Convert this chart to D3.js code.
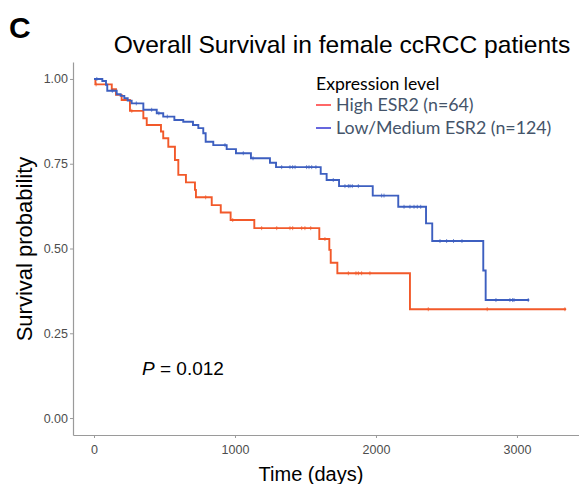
<!DOCTYPE html>
<html>
<head>
<meta charset="utf-8">
<script src="https://cdn.jsdelivr.net/npm/d3@7"></script>
<style>
  body { margin: 0; background: #fff; }
  text { font-family: Arial, "Liberation Sans", sans-serif; }
</style>
</head>
<body>
<svg id="chart" width="579" height="484"></svg>
<script>
// Kaplan-Meier steps (time in days, survival after the drop)
const highTimes = [0, 10, 126, 156, 196, 255, 350, 374, 475, 491, 527, 574, 598, 652, 716, 723, 835, 899, 969, 1137, 1598, 1669, 1679, 1726, 2241, 3348];
const highSurv  = [1, 0.984, 0.970, 0.953, 0.938, 0.906, 0.884, 0.864, 0.845, 0.825, 0.800, 0.761, 0.717, 0.695, 0.673, 0.651, 0.628, 0.606, 0.584, 0.560, 0.528, 0.496, 0.458, 0.427, 0.321, 0.321];
const highCensor = [15, 268, 792, 984, 1189, 1296, 1390, 1409, 1473, 1496, 1537, 1638, 1804, 1858, 1875, 1898, 1957, 2371, 2789, 3340];

const lowTimes = [0, 59, 85, 94, 161, 189, 215, 239, 267, 350, 445, 491, 570, 633, 702, 740, 775, 792, 846, 941, 1007, 1113, 1248, 1291, 1608, 1650, 1738, 1977, 2158, 2355, 2399, 2761, 2778, 3085];
const lowSurv  = [1, 0.994, 0.983, 0.965, 0.955, 0.950, 0.943, 0.936, 0.928, 0.909, 0.899, 0.889, 0.879, 0.874, 0.864, 0.855, 0.840, 0.815, 0.805, 0.793, 0.781, 0.766, 0.753, 0.740, 0.720, 0.702, 0.684, 0.656, 0.623, 0.574, 0.522, 0.435, 0.348, 0.348];
const lowCensor = [20, 130, 300, 409, 460, 520, 929, 1059, 1128, 1331, 1390, 1409, 1426, 1508, 1525, 1544, 1574, 1697, 1780, 1804, 1816, 1832, 1875, 2040, 2057, 2199, 2241, 2270, 2293, 2317, 2454, 2501, 2550, 2610, 2851, 2950, 2969, 2979, 3080];

const xTicks = [0, 1000, 2000, 3000];
const yTicks = [0, 0.25, 0.5, 0.75, 1];
const legendLabels = ["High ESR2 (n=64)", "Low/Medium ESR2 (n=124)"];
const curveColors = ["#f2592a", "#3d5fc0"];
const legendColors = ["#ff0000", "#0000c8"];

const svg = d3.select("#chart");

const x = d3.scaleLinear().domain([-149, 3440]).range([73, 579]);
const y = d3.scaleLinear().domain([-0.05, 1.05]).range([435, 62]);

// axes
const xAxis = svg.append("g")
    .attr("transform", "translate(0,435)")
    .call(d3.axisBottom(x).tickValues(xTicks).tickFormat(d3.format("d")).tickSize(3).tickSizeOuter(0));
const yAxis = svg.append("g")
    .attr("transform", "translate(73,0)")
    .call(d3.axisLeft(y).tickValues(yTicks).tickFormat(d3.format(".2f")).tickSize(3).tickSizeOuter(0));

[xAxis, yAxis].forEach(g => {
    g.select(".domain").attr("stroke", "#9a9a9a").attr("stroke-width", 1.2);
    g.selectAll(".tick line").attr("stroke", "#9a9a9a");
    g.selectAll(".tick text")
        .attr("fill", "#4d4d4d")
        .style("font-size", "12.5px")
        .style("font-family", "Arial, 'Liberation Sans', sans-serif");
});
xAxis.selectAll(".tick text").attr("dy", "1.05em");
yAxis.selectAll(".tick text").attr("x", -5);

// survival curves
const line = d3.line()
    .x(d => x(d[0]))
    .y(d => y(d[1]))
    .curve(d3.curveStepAfter);

function stepAt(times, surv, t) {
    let i = d3.bisectRight(times, t) - 1;
    return surv[Math.max(0, i)];
}

const groups = [
    {times: highTimes, surv: highSurv, censor: highCensor, color: curveColors[0]},
    {times: lowTimes, surv: lowSurv, censor: lowCensor, color: curveColors[1]}
];

groups.forEach(gr => {
    let pts = gr.times.map((t, i) => [t, gr.surv[i]]);
    svg.append("path")
        .attr("d", line(pts))
        .attr("fill", "none")
        .attr("stroke", gr.color)
        .attr("stroke-width", 1.9);

    svg.append("g").selectAll("path")
        .data(gr.censor)
        .join("path")
        .attr("d", t => {
            let cx = x(t), cy = y(stepAt(gr.times, gr.surv, t));
            return `M${cx - 1.5},${cy} L${cx + 1.5},${cy} M${cx},${cy - 2} L${cx},${cy + 2}`;
        })
        .attr("stroke", gr.color)
        .attr("stroke-opacity", 0.8)
        .attr("stroke-width", 0.9)
        .attr("fill", "none");
});

// titles
svg.append("text")
    .attr("x", 9).attr("y", 38)
    .style("font-size", "30px").style("font-weight", "bold")
    .text("C");

svg.append("text")
    .attr("x", 342).attr("y", 53)
    .attr("text-anchor", "middle")
    .style("font-size", "24.6px")
    .text("Overall Survival in female ccRCC patients");

svg.append("text")
    .attr("transform", "translate(32,249) rotate(-90)")
    .attr("text-anchor", "middle")
    .style("font-size", "22px")
    .text("Survival probability");

svg.append("text")
    .attr("x", 311).attr("y", 481)
    .attr("text-anchor", "middle")
    .style("font-size", "20px")
    .text("Time (days)");

// p value
const pText = svg.append("text")
    .attr("x", 142).attr("y", 375)
    .style("font-size", "19px");
pText.append("tspan").style("font-style", "italic").text("P");
pText.append("tspan").text(" = 0.012");

// legend
const legend = svg.append("g").attr("transform", "translate(316,0)");
legend.append("text")
    .attr("x", 0).attr("y", 90)
    .style("font-family", "Lato, 'Open Sans', sans-serif")
    .style("font-size", "17.6px")
    .attr("fill", "#000")
    .text("Expression level");

legendLabels.forEach((lab, i) => {
    let cy = 105 + i * 23;
    legend.append("line")
        .attr("x1", 0).attr("x2", 15)
        .attr("y1", cy).attr("y2", cy)
        .attr("stroke", legendColors[i])
        .attr("stroke-width", 1.2);
    legend.append("text")
        .attr("x", 20).attr("y", cy + 6)
        .style("font-family", "Lato, 'Open Sans', sans-serif")
        .style("font-size", "17.8px")
        .attr("fill", "#44546a")
        .text(lab);
});
</script>
</body>
</html>
